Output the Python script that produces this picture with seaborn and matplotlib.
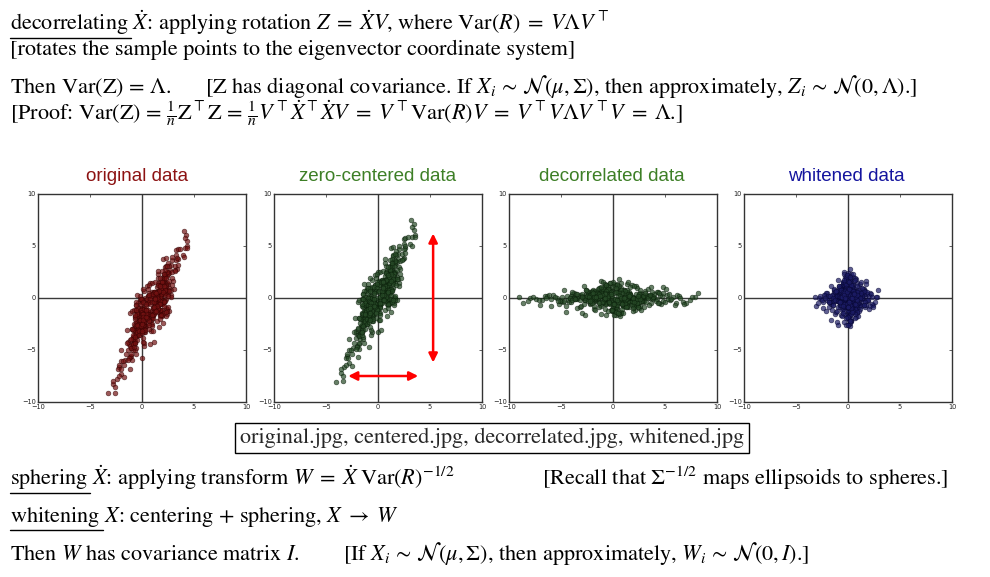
import numpy as np
import pandas as pd
import matplotlib
matplotlib.use("Agg")
import matplotlib.pyplot as plt
from matplotlib.lines import Line2D
import seaborn as sns

decor_u = [
    -0.4, 2.1, -3.3, 1.2, 0.6, -1.8, 4.5, -2.6, 0.1, 3.2, -5.1, 1.7,
    -0.9, 2.8, -2.2, 0.4, -4.0, 1.5, 5.6, -1.1, 3.7, -0.2, -2.9, 0.9,
    6.3, -3.8, 1.0, -0.6, 2.4, -1.5, -6.2, 3.0, 0.3, -2.4, 4.1, -0.8,
    1.9, -3.5, 0.7, 2.6, -1.3, -4.7, 5.0, -0.1, 1.4, -2.0, 3.5, -7.3,
    0.5, -1.7, 2.2, -3.0, 4.8, -0.5, 1.1, -2.7, 7.1, -1.0, 2.9, -4.4,
    0.2, 3.9, -2.3, 1.6, -0.3, -5.6, 2.0, -1.4, 4.3, 0.8, -3.6, 1.3,
    -8.6, 2.5, -0.7, 3.4, -2.1, 0.0, 5.3, -1.9, 1.8, -3.2, 0.6, 6.8,
    -1.2, 2.7, -4.2, 0.9, 3.1, -0.4, -2.6, 1.5, -6.7, 4.0, -0.9, 2.3,
    1.0, -3.9, 0.4, 5.9, -1.6, 2.1, -0.2, -4.9, 3.3, -1.1, 0.7, -2.8,
    4.6, -0.6, 1.7, -3.4, 2.9, -7.9, 0.3, -1.8, 3.8, -0.3, 8.0, -2.2,
    1.2, -5.3, 2.4, -0.8, 0.5, 3.6, -2.5, 1.9, -1.0, 6.1, -3.7, 0.1,
    -0.5, 2.0, -4.6, 1.4, 4.9, -1.5, 0.8, -2.9, 3.0, -6.0, 1.1, -0.1,
    2.6, -3.1, 0.6, 5.4, -1.2, -8.9, 2.2, -0.7, 3.5, -2.0, 0.2, -4.1,
    7.5, -1.4, 1.6, -2.4, 0.9, 4.2, -3.3, -0.2, 2.8, -5.0, 1.3, -1.7,
    0.4, 3.7, -2.7, 1.0, -0.9, 5.7, -3.8, 2.5, -1.3, 0.7, -6.4, 3.1,
    -0.3, 1.8, -2.1, 4.4, -4.5, 0.0, 2.3, -1.6, 6.5, -0.6, 1.5, -3.5,
    3.2, -1.9, 0.5, -7.0, 2.0, -0.4, 4.7, -2.6, 1.2, -1.0, 3.9, -5.5,
    -0.2, 1.4, -2.5, 3.3, -1.1, 0.6, -3.9, 2.2, -0.8, 4.5, -1.6, 0.3,
    2.9, -0.5, -5.8, 1.1, -2.3, 0.8, 3.6, -1.3, 0.0, -4.3, 2.4, 5.2,
    -1.0, 0.5, 2.7, -3.0, 1.6, -0.7, 6.0, -2.2, 1.0, -0.3, 3.1, -6.9,
    0.9, -1.8, 4.0, -0.4, 2.1, -3.6, 0.2, 1.7, -2.8, 7.7, -1.5, 0.6,
    -4.8, 2.6, -0.1, 1.3, -2.0, 3.8, -0.9, 0.4, -5.2, 2.0, -1.2, 4.9,
    1.5, -0.6, -3.4, 0.7, 5.5, -1.7, 2.3, -0.2, -2.6, 1.9, -7.6, 3.4,
    -0.7, 2.8, -1.9, 0.1, 4.1, -3.1, 1.2, -0.5, 2.5, -4.0, 0.9, -1.4,
    6.6, -2.4, 0.3, 1.8, -0.8, -5.9, 3.0, -1.1, 0.8, 2.2, -3.3, 0.0,
    -1.6, 3.5, -0.3, -2.7, 1.4, 4.6, -1.0, 0.5, -3.8, 2.7, -0.6, 8.3,
    0.1, -2.1, 1.9, -4.6, 3.2, -0.4, 0.9, -1.9, 5.1, -0.1, 1.6, -2.9,
    -6.3, 2.0, -0.9, 1.1, -3.5, 3.9, -1.3, 0.2, 2.6, -0.7, -2.4, 4.4,
    1.3, -1.2, 0.6, -8.1, 2.4, -0.5, 3.7, -2.1, 0.4, 6.9, -1.8, 1.0,
    -0.6, 1.1, -1.4, 0.3, 1.8, -0.9, 0.0, 2.3, -1.7, 0.7, -0.2, 1.4,
    0.9, -2.1, 0.4, -0.5, 1.6, -1.2, 2.0, -0.1, 0.8, -2.4, 1.2, -0.8,
    -1.5, 0.2, 2.6, -0.4, 1.0, -1.9, 0.5, -0.7, 1.9, -1.1, 0.1, 2.2,
    0.6, -1.3, -0.3, 1.5, -2.2, 0.9, -0.6, 1.3, -1.6, 2.4, -0.1, 0.4,
    -2.0, 1.7, 0.2, -0.9, 1.1, -1.4, 0.7, 2.1, -0.5, -1.8, 1.4, 0.0,
    1.6, -0.2, -2.6, 0.8, -1.0, 1.9, -0.4, 0.3, -1.2, 2.7, -0.8, 1.0,
    -0.3, 2.0, -1.7, 0.6, 1.3, -0.6, -2.3, 1.8, 0.1, -1.5, 0.9, -0.9,
    2.5, -1.1, 0.5, -0.1, -1.9, 1.2, 0.2, -0.7, 1.7, -2.1, 0.4, -1.3,
]
decor_v = [
    0.3, -0.5, 0.1, 0.8, -0.2, -0.9, 0.4, 0.0, -1.1, 0.6, -0.3, 0.2,
    1.0, -0.1, 0.5, -0.7, 0.2, 1.3, -0.4, 0.7, -0.6, 0.0, -1.3, 0.4,
    0.1, 0.6, -0.8, 0.3, 1.1, -0.2, 0.5, -0.5, -1.6, 0.9, 0.0, -0.4,
    -0.3, 0.2, 0.7, -1.0, 0.4, -0.1, 0.9, 1.5, -0.6, 0.1, -0.8, 0.3,
    0.6, -0.2, -1.2, 0.5, 0.0, 0.8, -0.4, 0.2, -0.7, 1.7, 0.3, -0.5,
    -0.9, 0.1, 0.4, -0.3, 1.2, 0.6, -0.6, 0.0, -0.2, -1.4, 0.7, 0.5,
    -0.1, 0.9, -0.5, 0.2, 0.3, -1.0, 0.1, 0.8, -0.3, 0.4, 1.4, -0.6,
    0.5, -0.8, 0.0, 1.0, -0.4, 0.2, -1.5, 0.6, 0.1, -0.2, 0.9, -0.7,
    -0.6, 0.4, 1.3, -0.1, 0.7, -0.9, 0.3, 0.0, -0.5, 1.1, -1.7, 0.2,
    0.1, -0.3, 0.6, -0.8, 0.0, 0.4, -1.1, 0.9, 0.2, -0.4, -0.2, 0.7,
    0.8, 0.3, -0.6, 1.6, -0.9, 0.1, 0.5, -0.2, 1.0, -0.7, 0.2, -1.2,
    -0.4, 1.2, 0.0, -0.5, 0.3, 0.7, -1.3, 0.4, -0.1, 0.6, -0.8, 0.9,
    0.2, -0.7, 1.1, -0.3, -0.6, 0.5, 0.0, -1.0, 0.8, 0.3, 1.4, -0.2,
    -0.5, 0.6, -0.9, 0.1, 1.5, -0.4, 0.2, 0.7, -1.2, 0.0, 0.4, -0.6,
    0.9, -0.1, 0.3, -1.4, 0.6, -0.3, 0.8, -0.7, 0.1, 1.2, 0.5, -0.9,
    -0.2, 1.0, -0.4, 0.4, -1.1, 0.7, -0.5, 0.3, 0.0, -1.6, 0.8, 0.1,
    0.0, 0.5, -1.0, 0.2, -0.3, 0.9, -0.7, 1.3, -0.8, 0.6, -0.1, 0.4,
    0.6, -0.9, 0.2, 0.0, -1.4, 0.5, -0.2, 1.1, 0.3, -0.6, 0.8, -0.1,
    -0.4, 1.3, 0.2, -0.8, 0.6, -0.3, 0.1, 1.0, -1.2, 0.4, -0.5, 0.7,
    0.9, -0.2, 0.4, -0.6, 1.5, 0.0, -0.9, 0.3, -0.4, 1.2, 0.1, -0.3,
    -1.0, 0.5, 0.0, 0.8, -0.7, 0.2, 1.6, -0.4, 0.6, -0.2, 0.3, -1.5,
    0.4, 0.1, -1.1, 0.7, -0.2, 0.9, 0.5, -0.8, 0.0, -1.3, 1.1, -0.4,
    -0.3, 1.4, 0.6, -0.5, 0.2, -1.0, 0.0, 0.8, 0.3, -0.7, 0.5, 0.1,
    1.1, -0.4, 0.7, -1.6, 0.3, 0.0, -0.6, 1.3, -0.9, 0.2, -0.1, 0.6,
    -0.2, 0.8, -1.3, 0.4, 1.0, -0.5, 0.1, -0.7, 1.8, -0.3, 0.6, -1.1,
    0.5, -0.1, 0.9, -0.4, -0.8, 0.3, 1.2, -1.4, 0.0, 0.7, -0.5, 0.2,
    -0.7, 0.2, -0.3, 1.0, 0.4, -1.2, 0.8, -0.1, -0.6, 1.5, 0.0, 0.3,
    0.3, -1.0, 0.6, -0.2, 0.1, 0.5, -0.8, 1.1, -0.4, 0.0, 0.9, -0.6,
    -0.9, 0.4, 1.3, 0.1, -0.5, 0.7, 0.2, -0.3, 1.0, -0.8, 0.0, 0.5,
    0.2, -0.3, 0.1, -0.5, 0.4, 0.0, -0.2, 0.3, -0.1, 0.5, -0.4, 0.1,
    -0.2, 0.4, -0.6, 0.2, 0.0, -0.3, 0.1, 0.6, -0.1, 0.3, -0.5, 0.2,
    0.0, -0.4, 0.3, 0.1, -0.2, 0.5, -0.6, 0.2, 0.0, 0.4, -0.3, -0.1,
    0.3, 0.1, -0.4, 0.0, 0.2, -0.5, 0.6, -0.2, 0.1, -0.1, 0.4, -0.3,
    -0.1, 0.2, 0.5, -0.3, 0.0, 0.3, -0.2, -0.4, 0.1, 0.6, -0.1, 0.2,
    0.4, -0.5, 0.0, 0.2, -0.3, 0.1, 0.3, -0.1, 0.5, -0.2, 0.0, -0.6,
    -0.3, 0.0, 0.2, -0.4, 0.1, 0.5, -0.1, 0.3, -0.5, 0.2, 0.0, 0.4,
    0.1, 0.3, -0.2, 0.4, -0.3, 0.0, -0.5, 0.1, 0.2, -0.1, 0.6, -0.4,
]

tilt_deg = 66.0
orig_mean = [0.8, -1.2]

panel_names = ["original data", "zero-centered data", "decorrelated data", "whitened data"]
title_colors = ["#8c1212", "#3d7f26", "#3d7f26", "#14149e"]
point_face = ["#741212", "#274a27", "#274a27", "#1c1c66"]
point_edge = ["#2a0000", "#061806", "#061806", "#04042a"]
tick_values = [-10, -5, 0, 5, 10]

# --- build the four stages -------------------------------------------------
theta = np.deg2rad(tilt_deg)
rot = np.array([[np.cos(theta), -np.sin(theta)],
                [np.sin(theta), np.cos(theta)]])
Z_read = np.column_stack([decor_u, decor_v])
X = Z_read @ rot.T + np.array(orig_mean)          # original data

Xc = X - X.mean(axis=0)                            # zero-centered
evals, evecs = np.linalg.eigh(np.cov(Xc.T, bias=True))
order = np.argsort(evals)[::-1]
evals, evecs = evals[order], evecs[:, order]
evecs = evecs * np.sign(np.diag(evecs))
Z = Xc @ evecs                                     # decorrelated
W = Z / np.sqrt(evals)                             # whitened

stages = [X, Xc, Z, W]
df = pd.concat(
    [pd.DataFrame({"panel": name, "x": s[:, 0], "y": s[:, 1]})
     for name, s in zip(panel_names, stages)],
    ignore_index=True,
)

# --- figure ------------------------------------------------------------------
sns.set_style("white")
plt.rcParams["mathtext.fontset"] = "stix"
plt.rcParams["font.family"] = ["STIXGeneral", "DejaVu Sans"]

FW, FH = 990, 577
fig = plt.figure(figsize=(FW / 100, FH / 100), dpi=100)


def fx(px):
    return px / FW


def fy(py):
    return 1 - py / FH


axes_left = [38, 274, 509, 744]
axes_top, axes_w, axes_h = 194, 208, 208
title_x = [137, 378, 612, 846]

for i, name in enumerate(panel_names):
    ax = fig.add_axes([fx(axes_left[i]), fy(axes_top + axes_h),
                       axes_w / FW, axes_h / FH])
    ax.axhline(0, color="#3a3a3a", lw=1.0, zorder=1)
    ax.axvline(0, color="#3a3a3a", lw=1.0, zorder=1)
    sns.scatterplot(data=df[df["panel"] == name], x="x", y="y", ax=ax,
                    color=point_face[i], edgecolor=point_edge[i],
                    linewidth=0.4, s=12, alpha=0.7, legend=False, zorder=2)
    ax.set_xlim(-10, 10)
    ax.set_ylim(-10, 10)
    ax.set_xticks(tick_values)
    ax.set_yticks(tick_values)
    ax.set_xlabel("")
    ax.set_ylabel("")
    ax.tick_params(direction="in", length=2.5, width=0.5, labelsize=4.8,
                   pad=1.5, top=True, right=True, colors="#222222",
                   labelfontfamily="DejaVu Sans")
    for sp in ax.spines.values():
        sp.set_color("#333333")
        sp.set_linewidth(1.0)
    fig.text(fx(title_x[i]), fy(181), name, ha="center", va="baseline",
             fontsize=13.5, color=title_colors[i], family="Liberation Sans")

    if i == 1:
        # spread arrows: +-2.4 std of the centered cloud
        sx, sy = 2.4 * Xc[:, 0].std(), 2.4 * Xc[:, 1].std()
        arrow = dict(arrowstyle="<|-|>", color="red", lw=1.8, mutation_scale=13,
                     shrinkA=0, shrinkB=0)
        ax.annotate("", xy=(5.3, sy), xytext=(5.3, -sy), arrowprops=arrow)
        ax.annotate("", xy=(sx + 0.5, -7.5), xytext=(-sx + 0.5, -7.5),
                    arrowprops=arrow)

# --- lecture text -----------------------------------------------------------
FS = 16
body = dict(fontsize=FS, va="baseline", ha="left", color="black")


def line(px, py, s, underline=None):
    t = fig.text(fx(px), fy(py), s, **body)
    if underline:
        w = fig.text(fx(px), fy(py), underline, alpha=0, **body)
        r = fig.canvas.get_renderer()
        bb = w.get_window_extent(renderer=r)
        fig.add_artist(Line2D([fx(bb.x0), fx(bb.x0 + bb.width + 4)],
                              [fy(py + 8), fy(py + 8)],
                              transform=fig.transFigure, color="black", lw=1.0))
    return t


line(10, 30, r"decorrelating $\dot{X}$: applying rotation $Z\;=\;\dot{X}V$, "
             r"where Var$(R)\;=\;V\Lambda V^{\top}$", underline="decorrelating")
line(10, 55, "[rotates the sample points to the eigenvector coordinate system]")
line(10, 93, r"Then Var(Z) = $\Lambda$.")
line(205, 93, r"[Z has diagonal covariance. If $X_i\,\sim\,\mathcal{N}(\mu, \Sigma)$, "
              r"then approximately, $Z_i\,\sim\,\mathcal{N}(0, \Lambda)$.]")
line(10, 120, r"[Proof: Var(Z) = $\frac{1}{n}$Z$^{\top}$Z = "
              r"$\frac{1}{n}V^{\top}\dot{X}^{\top}\dot{X}V\;=\;V^{\top}$Var$(R)V\;=\;"
              r"V^{\top}V\Lambda V^{\top}V\;=\;\Lambda$.]")

fig.text(fx(492), fy(438), "original.jpg, centered.jpg, decorrelated.jpg, whitened.jpg",
         fontsize=FS, ha="center", va="center",
         bbox=dict(boxstyle="square,pad=0.22", fc="white", ec="black", lw=1.0))

line(10, 485, r"sphering $\dot{X}$: applying transform $W\;=\;\dot{X}\;$Var$(R)^{-1/2}$",
     underline="sphering")
line(542, 485, r"[Recall that $\Sigma^{-1/2}$ maps ellipsoids to spheres.]")
line(10, 522, r"whitening $X$: centering + sphering, $X\;\rightarrow\;W$",
     underline="whitening")
line(10, 560, r"Then $W$ has covariance matrix $I$.")
line(343, 560, r"[If $X_i\,\sim\,\mathcal{N}(\mu, \Sigma)$, then approximately, "
               r"$W_i\,\sim\,\mathcal{N}(0, I)$.]")

fig.savefig("out.png", dpi=100)
